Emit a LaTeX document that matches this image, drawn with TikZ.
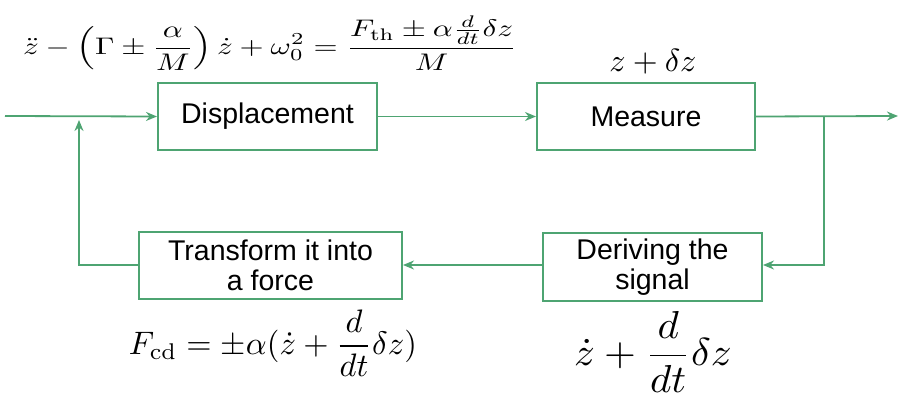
\documentclass[tikz,border=0pt]{standalone}
\usepackage{amsmath}
\usepackage{graphicx}
\usepackage[no-math]{fontspec}
\setmainfont{Liberation Sans}
\usetikzlibrary{arrows.meta}
\definecolor{lgreen}{RGB}{78,164,114}
\tikzset{
  blk/.style={draw=lgreen, line width=2pt, minimum width=#1, minimum height=67pt, inner sep=0pt, align=center, font=\fontsize{28.5}{33}\selectfont},
  conn/.style={draw=lgreen, line width=1.8pt, -{Stealth[length=11pt,width=9pt]}},
  eqn/.style={inner sep=0pt}
}
\begin{document}
\begin{tikzpicture}[x=1pt,y=-1pt]
\useasboundingbox (0,0) rectangle (898,399);
\node[blk=219pt] (disp) at (267.5,116.5) {Displacement};
\node[blk=218pt] (meas) at (646,116.5) {Measure};
\node[blk=263pt, minimum height=67pt] (trans) at (270.5,265) {Transform it into\\[-3pt]a force};
\node[blk=219pt, minimum height=68pt] (deriv) at (652.5,267) {Deriving the\\[-3pt]signal};
\coordinate (in) at (5,116);
\coordinate (out) at (898,116);
\coordinate (br) at (824,116);
\coordinate (brd) at (824,265);
\coordinate (fbl) at (79,265);
\coordinate (fbt) at (79,120);
\draw[conn] (in) -- (disp.west);
\draw[conn] (disp.east) -- (meas.west);
\draw[conn] (meas.east) -- (out);
\draw[conn] (br) -- (brd) -- (deriv.east |- brd);
\draw[conn] (deriv.west |- brd) -- (trans.east |- brd);
\draw[conn] (trans.west |- fbl) -- (fbl) -- (fbt);
\node[eqn] (eq1) at (270,43) {\scalebox{3.1}[2.4]{$\displaystyle \ddot z-\left(\Gamma\pm\frac{\alpha}{M}\right)\dot z+\omega_0^2=\frac{F_{\mathrm{th}}\pm\alpha\frac{d}{dt}\delta z}{M}$}};
\node[eqn] (eq2) at (653,62) {\scalebox{3.2}{$z+\delta z$}};
\node[eqn] (eq3) at (273,343) {\scalebox{3.25}{$\displaystyle F_{\mathrm{cd}}=\pm\alpha(\dot z+\frac{d}{dt}\delta z)$}};
\node[eqn] (eq4) at (653,352) {\scalebox{4.1}[3.9]{$\displaystyle \dot z+\frac{d}{dt}\delta z$}};
\end{tikzpicture}
\end{document}
